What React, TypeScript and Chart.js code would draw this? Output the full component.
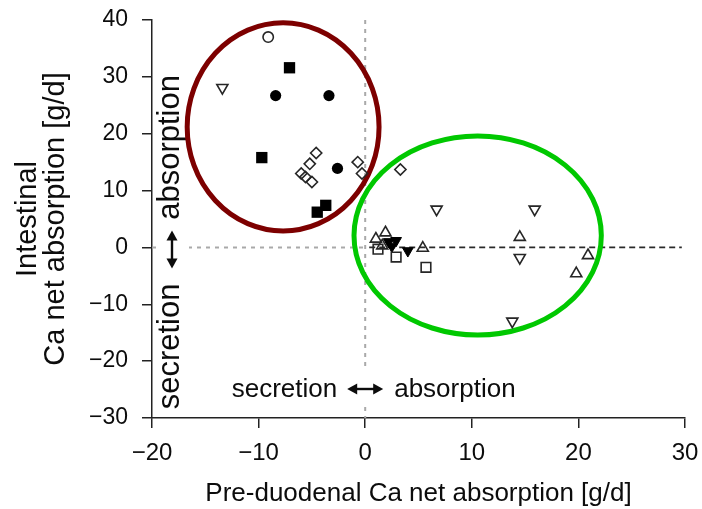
import React, { useEffect, useRef } from 'react';
import { Chart, registerables } from 'chart.js';

Chart.register(...registerables);

const FONT = '"Liberation Sans", Arial, Helvetica, sans-serif';
const INK = '#0c0c0c';

// axis ticks
const xTickValues = [-20, -10, 0, 10, 20, 30];
const yTickValues = [-30, -20, -10, 0, 10, 20, 30, 40];

// Pre-duodenal (x) vs intestinal (y) Ca net absorption, g/d, one pair of arrays per marker type
const openCircleX = [-9.1];
const openCircleY = [37.0];

const filledSquareX = [-7.1, -9.7, -3.7, -4.5];
const filledSquareY = [31.6, 15.8, 7.4, 6.2];

const filledCircleX = [-8.4, -3.4, -2.6];
const filledCircleY = [26.7, 26.7, 13.9];

const openDownTriX = [-13.4, 6.7, 15.9, 14.5, 13.8];
const openDownTriY = [28.1, 6.7, 6.7, -1.8, -13.0];

const openDiamondX = [-4.6, -5.2, -6.0, -5.6, -5.0, -0.7, -0.3, 3.3];
const openDiamondY = [16.6, 14.7, 13.0, 12.4, 11.5, 15.0, 13.0, 13.7];

const openUpTriX = [1.0, 1.9, 1.6, 5.4, 14.5, 20.9, 19.8];
const openUpTriY = [1.5, 2.6, 0.3, -0.1, 1.8, -1.4, -4.6];

const openSquareX = [1.2, 2.9, 5.7];
const openSquareY = [-0.3, -1.7, -3.5];

const filledDownTriX = [2.2, 2.9, 2.5, 4.0];
const filledDownTriY = [1.0, 1.2, 0.2, -0.6];

// cluster outlines: centre and semi-axes in data units
const clusterCx = [-7.7, 10.55];
const clusterCy = [21.2, 2.1];
const clusterRx = [9.0, 11.6];
const clusterRy = [18.3, 17.5];
const clusterColors = ['#7d0000', '#00c800'];

const fmtTick = (v: number) => (v < 0 ? '\u2212' + Math.abs(v) : String(v));

const pairs = (xs: number[], ys: number[]) => xs.map((x, i) => ({ x, y: ys[i] }));

function doubleArrow(ctx: CanvasRenderingContext2D, x1: number, y1: number, x2: number, y2: number) {
  const ang = Math.atan2(y2 - y1, x2 - x1);
  const head = 10;
  const half = 5.5;
  ctx.lineWidth = 2.4;
  ctx.beginPath();
  ctx.moveTo(x1 + Math.cos(ang) * head * 0.8, y1 + Math.sin(ang) * head * 0.8);
  ctx.lineTo(x2 - Math.cos(ang) * head * 0.8, y2 - Math.sin(ang) * head * 0.8);
  ctx.stroke();
  const tip = (tx: number, ty: number, a: number) => {
    ctx.beginPath();
    ctx.moveTo(tx, ty);
    ctx.lineTo(tx - Math.cos(a) * head - Math.sin(a) * half, ty - Math.sin(a) * head + Math.cos(a) * half);
    ctx.lineTo(tx - Math.cos(a) * head + Math.sin(a) * half, ty - Math.sin(a) * head - Math.cos(a) * half);
    ctx.closePath();
    ctx.fill();
  };
  tip(x2, y2, ang);
  tip(x1, y1, ang + Math.PI);
}

const overlay = {
  id: 'overlay',
  beforeDatasetsDraw(chart: any) {
    const { ctx, chartArea } = chart;
    const xs = chart.scales.x;
    const ys = chart.scales.y;
    const px = (v: number) => xs.getPixelForValue(v);
    const py = (v: number) => ys.getPixelForValue(v);
    const x0 = px(0);
    const y0 = py(0);
    ctx.save();

    // grey dotted zero lines
    ctx.strokeStyle = '#a9a9a9';
    ctx.lineWidth = 2;
    ctx.setLineDash([4, 5]);
    ctx.beginPath();
    ctx.moveTo(x0, py(40));
    ctx.lineTo(x0, py(-30));
    ctx.moveTo(px(-20), y0);
    ctx.lineTo(x0, y0);
    ctx.stroke();

    // black dashed zero line on the absorption side
    ctx.strokeStyle = '#2a2a2a';
    ctx.lineWidth = 1.8;
    ctx.setLineDash([6, 4]);
    ctx.beginPath();
    ctx.moveTo(x0 + 4, y0);
    ctx.lineTo(px(29.7), y0);
    ctx.stroke();
    ctx.setLineDash([]);

    // direction labels
    const lx = chartArea.left + 27;
    ctx.fillStyle = '#ffffff';
    ctx.fillRect(lx - 20, y0 - 16, 30, 34);
    const by = chartArea.bottom - 21;
    ctx.fillRect(x0 - 20, by - 26, 40, 36);

    ctx.fillStyle = INK;
    ctx.strokeStyle = INK;
    doubleArrow(ctx, lx - 7, y0 - 17, lx - 7, y0 + 21);
    doubleArrow(ctx, x0 - 18, by - 8, x0 + 18, by - 8);

    ctx.font = `31px ${FONT}`;
    ctx.textBaseline = 'alphabetic';
    ctx.textAlign = 'center';
    ctx.save();
    ctx.translate(lx, y0 - 100);
    ctx.rotate(-Math.PI / 2);
    ctx.fillText('absorption', 0, 0);
    ctx.restore();
    ctx.save();
    ctx.translate(lx, y0 + 99);
    ctx.rotate(-Math.PI / 2);
    ctx.fillText('secretion', 0, 0);
    ctx.restore();

    ctx.font = `26px ${FONT}`;
    ctx.textAlign = 'right';
    ctx.fillText('secretion', x0 - 28, by);
    ctx.textAlign = 'left';
    ctx.fillText('absorption', x0 + 29, by);

    // cluster ellipses
    const ux = px(1) - px(0);
    const uy = py(0) - py(1);
    ctx.lineWidth = 5;
    clusterCx.forEach((cx, i) => {
      ctx.strokeStyle = clusterColors[i];
      ctx.beginPath();
      ctx.ellipse(px(cx), py(clusterCy[i]), clusterRx[i] * ux, clusterRy[i] * uy, 0, 0, Math.PI * 2);
      ctx.stroke();
    });

    ctx.restore();
  },
};

const open = 'rgba(0,0,0,0)';
const edge = '#262626';

export default function App() {
  const ref = useRef<HTMLCanvasElement | null>(null);

  useEffect(() => {
    if (!ref.current) return;
    const chart = new Chart(ref.current, {
      type: 'scatter',
      data: {
        datasets: [
          { label: 'open circle', data: pairs(openCircleX, openCircleY), pointStyle: 'circle', pointRadius: 5.2, backgroundColor: open, borderColor: edge, borderWidth: 1.6 },
          { label: 'filled square', data: pairs(filledSquareX, filledSquareY), pointStyle: 'rect', pointRadius: 8, backgroundColor: '#000', borderColor: '#000', borderWidth: 0 },
          { label: 'filled circle', data: pairs(filledCircleX, filledCircleY), pointStyle: 'circle', pointRadius: 5.6, backgroundColor: '#000', borderColor: '#000', borderWidth: 0 },
          { label: 'open down-triangle', data: pairs(openDownTriX, openDownTriY), pointStyle: 'triangle', rotation: 180, pointRadius: 6.4, backgroundColor: open, borderColor: edge, borderWidth: 1.6 },
          { label: 'open diamond', data: pairs(openDiamondX, openDiamondY), pointStyle: 'rectRot', pointRadius: 5.6, backgroundColor: open, borderColor: edge, borderWidth: 1.6 },
          { label: 'open up-triangle', data: pairs(openUpTriX, openUpTriY), pointStyle: 'triangle', pointRadius: 6.4, backgroundColor: open, borderColor: edge, borderWidth: 1.6 },
          { label: 'open square', data: pairs(openSquareX, openSquareY), pointStyle: 'rect', pointRadius: 6.8, backgroundColor: open, borderColor: edge, borderWidth: 1.6 },
          { label: 'filled down-triangle', data: pairs(filledDownTriX, filledDownTriY), pointStyle: 'triangle', rotation: 180, pointRadius: 6.2, backgroundColor: '#000', borderColor: '#000', borderWidth: 1 },
        ],
      },
      options: {
        animation: false,
        responsive: false,
        devicePixelRatio: 1,
        layout: { padding: { top: 20, right: 17, bottom: 0, left: 0 } },
        plugins: { legend: { display: false }, tooltip: { enabled: false } },
        scales: {
          x: {
            type: 'linear',
            min: -20,
            max: 30,
            afterBuildTicks: (s: any) => { s.ticks = xTickValues.map((value) => ({ value })); },
            afterFit: (s: any) => { s.height = 91; s.paddingLeft = 0; s.paddingRight = 0; },
            ticks: { callback: (v: any) => fmtTick(Number(v)), font: { family: FONT, size: 24 }, color: INK, padding: 11, maxRotation: 0, autoSkip: false },
            grid: { drawOnChartArea: false, drawTicks: true, tickLength: 10, color: '#222', lineWidth: 1.5 },
            border: { display: true, color: '#222', width: 1.5 },
            title: { display: true, text: 'Pre-duodenal Ca net absorption [g/d]', font: { family: FONT, size: 26 }, color: INK, padding: 0 },
          },
          y: {
            type: 'linear',
            min: -30,
            max: 40,
            afterBuildTicks: (s: any) => { s.ticks = yTickValues.map((value) => ({ value })); },
            afterFit: (s: any) => { s.width = 152; s.paddingTop = 0; s.paddingBottom = 0; },
            ticks: { callback: (v: any) => fmtTick(Number(v)), font: { family: FONT, size: 23 }, color: INK, padding: 14, autoSkip: false },
            grid: { drawOnChartArea: false, drawTicks: true, tickLength: 10, color: '#222', lineWidth: 1.5 },
            border: { display: true, color: '#222', width: 1.5 },
            title: { display: true, text: ['Intestinal', 'Ca net absorption [g/d]'], font: { family: FONT, size: 29, lineHeight: 0.97 }, color: INK, padding: { top: 14, bottom: 0 } },
          },
        },
      },
      plugins: [overlay],
    } as any);
    return () => chart.destroy();
  }, []);

  return (
    <div style={{ position: 'absolute', left: 0, top: 0, width: 702, height: 509, background: '#fff' }}>
      <canvas ref={ref} width={702} height={509} />
    </div>
  );
}
